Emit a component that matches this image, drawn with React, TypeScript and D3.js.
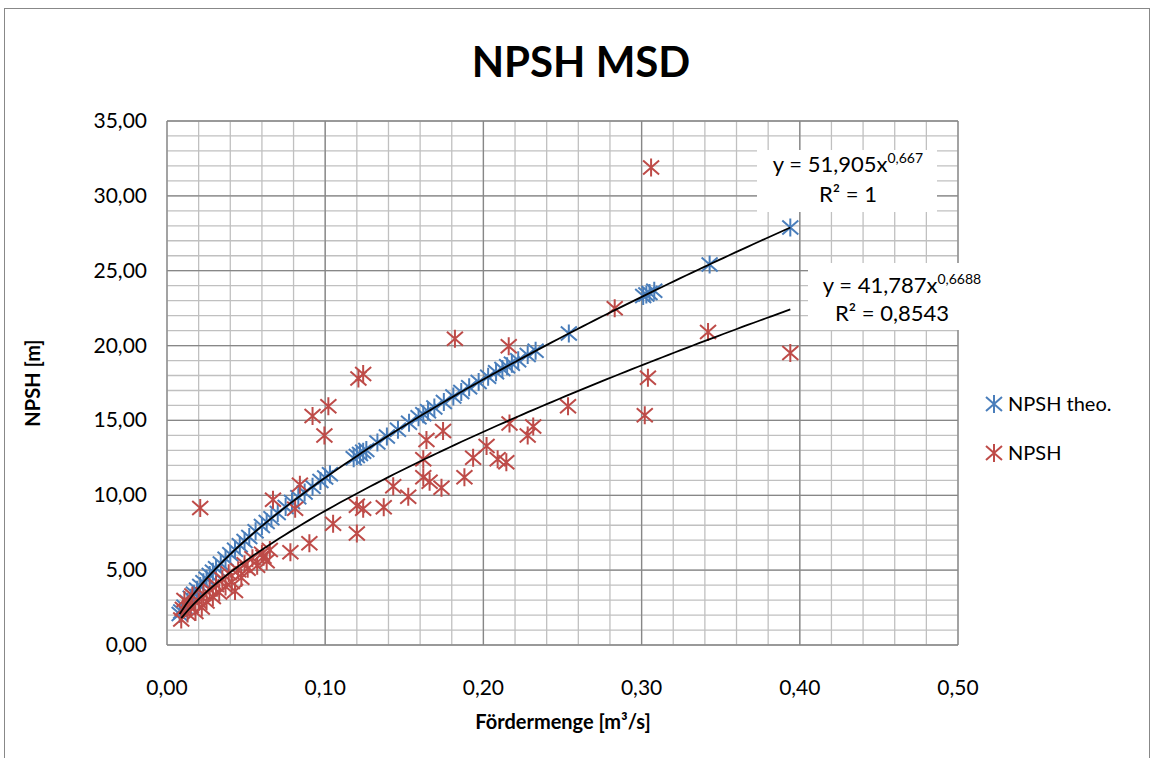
import React from 'react';
import * as d3 from 'd3';

// NPSH theo. (blue)
const theoX = [0.008, 0.009, 0.011, 0.013, 0.015, 0.017, 0.019, 0.021, 0.023, 0.025, 0.027, 0.029, 0.031, 0.034, 0.037, 0.040, 0.043, 0.046, 0.049, 0.052, 0.056, 0.060, 0.063, 0.066, 0.070, 0.075, 0.079, 0.083, 0.087, 0.092, 0.097, 0.100, 0.103, 0.118, 0.120, 0.122, 0.124, 0.126, 0.133, 0.139, 0.146, 0.153, 0.159, 0.162, 0.165, 0.169, 0.175, 0.181, 0.186, 0.191, 0.197, 0.203, 0.208, 0.212, 0.215, 0.218, 0.222, 0.228, 0.233, 0.254, 0.301, 0.303, 0.305, 0.308, 0.343, 0.394];
const theoY = [2.07, 2.24, 2.56, 2.87, 3.15, 3.43, 3.69, 3.94, 4.19, 4.43, 4.67, 4.89, 5.12, 5.44, 5.76, 6.06, 6.36, 6.66, 6.94, 7.22, 7.59, 7.95, 8.21, 8.47, 8.81, 9.22, 9.55, 9.87, 10.18, 10.57, 10.95, 11.18, 11.40, 12.48, 12.62, 12.76, 12.90, 13.03, 13.52, 13.92, 14.38, 14.84, 15.22, 15.41, 15.61, 15.86, 16.23, 16.60, 16.90, 17.21, 17.56, 17.92, 18.21, 18.44, 18.62, 18.79, 19.02, 19.37, 19.65, 20.81, 23.31, 23.41, 23.51, 23.66, 25.42, 27.89];

// NPSH measured (red)
const npshX = [0.009, 0.010, 0.011, 0.013, 0.015, 0.016, 0.018, 0.020, 0.022, 0.023, 0.025, 0.027, 0.029, 0.031, 0.033, 0.035, 0.037, 0.039, 0.041, 0.043, 0.045, 0.047, 0.049, 0.051, 0.054, 0.057, 0.060, 0.061, 0.063, 0.065, 0.067, 0.078, 0.081, 0.084, 0.090, 0.092, 0.0995, 0.102, 0.105, 0.120, 0.120, 0.121, 0.124, 0.124, 0.137, 0.143, 0.1525, 0.162, 0.162, 0.164, 0.166, 0.1735, 0.1745, 0.182, 0.188, 0.1935, 0.202, 0.209, 0.2145, 0.2165, 0.216, 0.228, 0.2315, 0.2535, 0.283, 0.302, 0.304, 0.306, 0.342, 0.394, 0.021];
const npshY = [1.7, 2.4, 3.0, 2.1, 2.6, 3.3, 2.2, 2.9, 2.5, 3.4, 2.9, 3.7, 3.2, 4.0, 3.5, 4.4, 3.9, 4.8, 4.2, 3.6, 5.0, 4.5, 5.4, 5.1, 5.8, 5.3, 6.1, 5.9, 5.6, 6.35, 9.7, 6.2, 9.1, 10.7, 6.8, 15.3, 14.0, 15.95, 8.1, 9.3, 7.45, 17.8, 18.1, 9.1, 9.2, 10.6, 9.9, 12.4, 11.2, 13.7, 10.9, 10.5, 14.3, 20.45, 11.2, 12.5, 13.3, 12.4, 12.2, 14.8, 19.95, 14.0, 14.6, 15.95, 22.5, 15.35, 17.85, 31.9, 20.9, 19.5, 9.15];

// power trendlines y = a * x^b
const fits = [
  { a: 51.905, b: 0.667, aText: '51,905', bText: '0,667', r2: '1', xs: theoX },
  { a: 41.787, b: 0.6688, aText: '41,787', bText: '0,6688', r2: '0,8543', xs: npshX },
];

const seriesNames = ['NPSH theo.', 'NPSH'];
const colors = ['#4a7ebb', '#be4b48'];
const xTickLabels = ['0,00', '0,10', '0,20', '0,30', '0,40', '0,50'];
const yTickLabels = ['0,00', '5,00', '10,00', '15,00', '20,00', '25,00', '30,00', '35,00'];

const font = 'Lato, Carlito, "Liberation Sans", sans-serif';
const starPath = 'M-8,-7L8,7M-8,7L8,-7M0,-9L0,9';

const App = () => {
  const width = 1152;
  const height = 758;
  const left = 167;
  const right = 958;
  const top = 121;
  const bottom = 645;

  const x = d3.scaleLinear().domain([0, 0.5]).range([left, right]);
  const y = d3.scaleLinear().domain([0, 35]).range([bottom, top]);

  const minorX = d3.range(0, 0.5001, 0.02);
  const majorX = d3.range(0, 0.5001, 0.1);
  const minorY = d3.range(0, 35.001, 1);
  const majorY = d3.range(0, 35.001, 5);

  const line = d3.line<number>().x((d) => x(d[0])).y((d) => y(d[1]));

  const series = [
    theoX.map((v, i) => [v, theoY[i]]),
    npshX.map((v, i) => [v, npshY[i]]),
  ];

  const trend = fits.map((f) => {
    const [lo, hi] = d3.extent(f.xs);
    return d3.range(0, 101).map((i) => {
      const xv = lo + ((hi - lo) * i) / 100;
      return [xv, f.a * Math.pow(xv, f.b)];
    });
  });

  return (
    <svg width={width} height={height} style={{ position: 'absolute', left: 0, top: 0, background: '#fff' }} fontFamily={font}>
      <rect x={4.5} y={8.5} width={1145} height={780} fill="#fff" stroke="#888" strokeWidth={1} />
      <text x={581} y={77} textAnchor="middle" fontSize={42} fontWeight="bold">NPSH MSD</text>

      {/* grid */}
      {minorX.map((v, i) => (
        <line key={'mx' + i} x1={x(v)} x2={x(v)} y1={top} y2={bottom} stroke="#c0c0c0" strokeWidth={1.3} />
      ))}
      {minorY.map((v, i) => (
        <line key={'my' + i} x1={left} x2={right} y1={y(v)} y2={y(v)} stroke="#c0c0c0" strokeWidth={1.3} />
      ))}
      {majorX.map((v, i) => (
        <line key={'Mx' + i} x1={x(v)} x2={x(v)} y1={top} y2={bottom} stroke="#878787" strokeWidth={1.3} />
      ))}
      {majorY.map((v, i) => (
        <line key={'My' + i} x1={left} x2={right} y1={y(v)} y2={y(v)} stroke="#878787" strokeWidth={1.3} />
      ))}

      {/* tick labels */}
      {majorY.map((v, i) => (
        <text key={'yl' + i} x={147} y={y(v) + 7} textAnchor="end" fontSize={21}>{yTickLabels[i]}</text>
      ))}
      {majorX.map((v, i) => (
        <text key={'xl' + i} x={x(v)} y={695} textAnchor="middle" fontSize={21}>{xTickLabels[i]}</text>
      ))}
      <text x={563} y={729} textAnchor="middle" fontSize={20} fontWeight="bold">Fördermenge [m³/s]</text>
      <text transform="translate(40,383) rotate(-90)" textAnchor="middle" fontSize={20} fontWeight="bold">NPSH [m]</text>

      {/* points */}
      {series.map((pts, s) => (
        <g key={'s' + s} stroke={colors[s]} strokeWidth={2} fill="none">
          {pts.map((p, i) => (
            <path key={i} d={starPath} transform={`translate(${x(p[0])},${y(p[1])})`} />
          ))}
        </g>
      ))}

      {/* trendlines */}
      {trend.map((t, i) => (
        <path key={'t' + i} d={line(t)} fill="none" stroke="#000" strokeWidth={1.8} />
      ))}

      {/* equation labels */}
      <rect x={757} y={150} width={180} height={62} fill="#fff" />
      <text x={848} y={172} textAnchor="middle" fontSize={22}>
        y = {fits[0].aText}x<tspan dy={-9} fontSize={14}>{fits[0].bText}</tspan>
      </text>
      <text x={848} y={202} textAnchor="middle" fontSize={22}>R² = {fits[0].r2}</text>

      <rect x={808} y={263} width={190} height={67} fill="#fff" />
      <text x={902} y={293} textAnchor="middle" fontSize={22}>
        y = {fits[1].aText}x<tspan dy={-9} fontSize={14}>{fits[1].bText}</tspan>
      </text>
      <text x={892} y={321} textAnchor="middle" fontSize={22}>R² = {fits[1].r2}</text>

      {/* legend */}
      {seriesNames.map((n, i) => (
        <g key={'lg' + i} transform={`translate(994,${404 + i * 49})`}>
          <path d={starPath} stroke={colors[i]} strokeWidth={2} fill="none" />
          <text x={14} y={7} fontSize={20}>{n}</text>
        </g>
      ))}
    </svg>
  );
};

export default App;
